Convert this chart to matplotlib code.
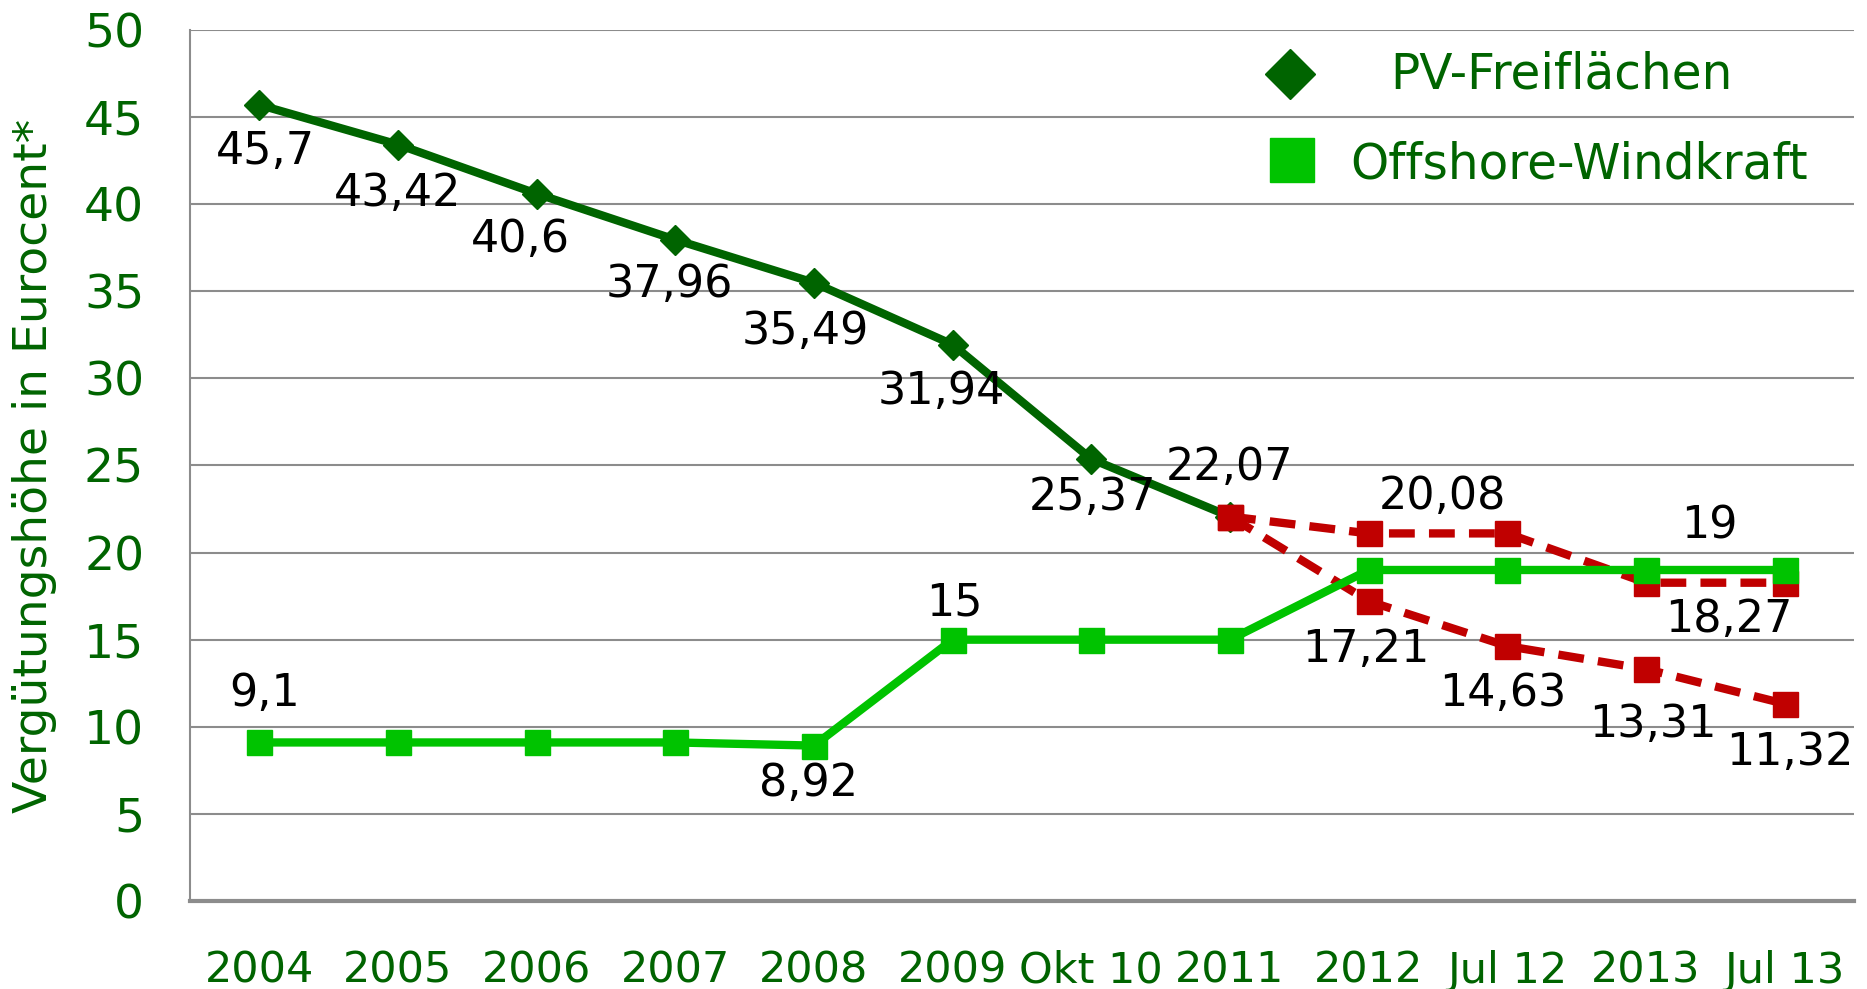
import numpy as np
import matplotlib
matplotlib.use("Agg")
import matplotlib.pyplot as plt

# ---- data -------------------------------------------------------------
categories = ["2004", "2005", "2006", "2007", "2008", "2009", "Okt 10",
              "2011", "2012", "Jul 12", "2013", "Jul 13"]

pv_freiflaechen = [45.7, 43.42, 40.6, 37.96, 35.49, 31.94, 25.37, 22.07,
                   np.nan, np.nan, np.nan, np.nan]
offshore_wind = [9.1, 9.1, 9.1, 9.1, 8.92, 15, 15, 15, 19, 19, 19, 19]
pv_upper = [np.nan] * 7 + [22.07, 21.1, 21.1, 18.27, 18.27]
pv_lower = [np.nan] * 7 + [22.07, 17.21, 14.63, 13.31, 11.32]

# data labels: (text, category index)
labels_pv = ["45,7", "43,42", "40,6", "37,96", "35,49", "31,94", "25,37", "22,07"]
labels_off = [("9,1", 0), ("8,92", 4), ("15", 5), ("19", 10)]
labels_upper = [("20,08", 9), ("18,27", 11)]
labels_lower = [("17,21", 8), ("14,63", 9), ("13,31", 10), ("11,32", 11)]

# label offsets (category units, value units)
off_pv = [(0.04, -2.7), (0.0, -2.8), (-0.12, -2.6), (-0.04, -2.6),
          (-0.06, -2.8), (-0.08, -2.7), (0.01, -2.2), (0.0, 2.8)]
off_off = [(0.04, 2.8), (-0.04, -2.2), (0.01, 2.1), (0.46, 2.5)]
off_upper = [(-0.47, 2.1), (-0.4, -2.1)]
off_lower = [(-0.02, -2.8), (-0.03, -2.7), (0.05, -3.2), (0.04, -2.8)]

legend_labels = ["PV-Freiflächen", "Offshore-Windkraft"]

# ---- style ------------------------------------------------------------
dark_green = "#006400"
light_green = "#00C300"
red = "#C00000"
grid_grey = "#8C8C8C"

fig = plt.figure(figsize=(18.67, 9.89), dpi=100)
ax = fig.add_axes([0.1018, 0.089, 0.8912, 0.8807])

x = np.arange(len(categories))
dashes = (0, (3.1, 1.7))

ax.plot(x, pv_freiflaechen, color=dark_green, lw=6, marker="D", ms=15,
        zorder=3)
ax.plot(x, pv_upper, color=red, lw=6, ls=dashes, marker="s", ms=18, zorder=4)
ax.plot(x, pv_lower, color=red, lw=6, ls=dashes, marker="s", ms=18, zorder=4)
ax.plot(x, offshore_wind, color=light_green, lw=6, marker="s", ms=18,
        zorder=5)

lab_kw = dict(ha="center", va="center", fontsize=32, color="black", zorder=6)
for i, (t, (dx, dy)) in enumerate(zip(labels_pv, off_pv)):
    ax.text(x[i] + dx, pv_freiflaechen[i] + dy, t, **lab_kw)
for (t, i), (dx, dy) in zip(labels_off, off_off):
    ax.text(x[i] + dx, offshore_wind[i] + dy, t, **lab_kw)
for (t, i), (dx, dy) in zip(labels_upper, off_upper):
    ax.text(x[i] + dx, pv_upper[i] + dy, t, **lab_kw)
for (t, i), (dx, dy) in zip(labels_lower, off_lower):
    ax.text(x[i] + dx, pv_lower[i] + dy, t, **lab_kw)

ax.set_xlim(-0.5, len(categories) - 0.5)
ax.set_ylim(0, 50)
ax.set_yticks(range(0, 51, 5))
ax.set_xticks(x)
ax.set_xticklabels(categories)
ax.tick_params(axis="y", length=0, pad=33, labelsize=34, labelcolor=dark_green)
ax.tick_params(axis="x", length=0, pad=35, labelsize=31, labelcolor=dark_green)
ax.yaxis.grid(True, color=grid_grey, lw=1.5)
ax.set_axisbelow(True)
for s in ["top", "right"]:
    ax.spines[s].set_visible(False)
ax.spines["left"].set_color(grid_grey)
ax.spines["left"].set_linewidth(1.5)
ax.spines["bottom"].set_color(grid_grey)
ax.spines["bottom"].set_linewidth(3)

ax.set_ylabel("Vergütungshöhe in Eurocent*", fontsize=34, color=dark_green)
ax.yaxis.set_label_coords(-0.080, 0.5)

# legend, drawn by hand so the texts can be centred like in the original
ax.plot([0.661], [0.949], transform=ax.transAxes, ls="none", marker="D",
        ms=25, color=dark_green, clip_on=False)
ax.plot([0.662], [0.851], transform=ax.transAxes, ls="none", marker="s",
        ms=31, color=light_green, clip_on=False)
ax.text(0.8245, 0.949, legend_labels[0], transform=ax.transAxes, ha="center",
        va="center", fontsize=35, color=dark_green)
ax.text(0.8347, 0.846, legend_labels[1], transform=ax.transAxes, ha="center",
        va="center", fontsize=35, color=dark_green)

fig.savefig("out.png", dpi=100)
